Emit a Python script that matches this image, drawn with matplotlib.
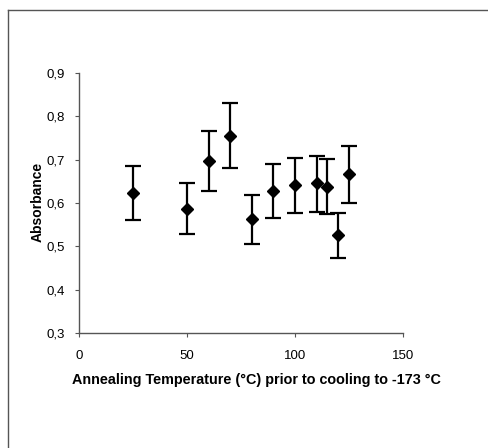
import matplotlib.pyplot as plt
from matplotlib.ticker import FuncFormatter
from matplotlib.lines import Line2D

plt.rcParams["font.family"] = ["Liberation Sans", "DejaVu Sans"]

# annealing temperature (C) and absorbance with error bar ends
temperature = [25, 50, 60, 70, 80, 90, 100, 110, 115, 120, 125]
absorbance = [0.622, 0.585, 0.697, 0.755, 0.563, 0.628, 0.641, 0.645, 0.638, 0.525, 0.666]
err_top = [0.686, 0.645, 0.767, 0.830, 0.618, 0.691, 0.704, 0.709, 0.701, 0.577, 0.732]
err_bottom = [0.561, 0.528, 0.628, 0.680, 0.506, 0.565, 0.576, 0.580, 0.574, 0.472, 0.599]

yerr_low = [a - b for a, b in zip(absorbance, err_bottom)]
yerr_high = [t - a for a, t in zip(absorbance, err_top)]

fig = plt.figure(figsize=(4.89, 4.48), dpi=100)
ax = fig.add_axes([0.1616, 0.2567, 0.6626, 0.5804])

ax.errorbar(temperature, absorbance, yerr=[yerr_low, yerr_high],
            fmt="D", color="black", markersize=6.5, ecolor="black",
            elinewidth=1.6, capsize=6, capthick=1.6)

ax.set_xlim(0, 150)
ax.set_ylim(0.3, 0.9)
ax.set_xticks([0, 50, 100, 150])
ax.set_yticks([0.3, 0.4, 0.5, 0.6, 0.7, 0.8, 0.9])
ax.yaxis.set_major_formatter(FuncFormatter(lambda v, p: f"{v:.1f}".replace(".", ",")))

for side in ["top", "right"]:
    ax.spines[side].set_visible(False)
for side in ["left", "bottom"]:
    ax.spines[side].set_color("#555555")
    ax.spines[side].set_linewidth(1.0)

ax.tick_params(axis="both", direction="out", length=3, width=0.8, colors="#555555",
               labelcolor="black", labelsize=9.5)
ax.tick_params(axis="x", pad=9)
ax.tick_params(axis="y", pad=7)

ax.set_xlabel("Annealing Temperature (°C) prior to cooling to -173 °C",
              fontsize=10.4, fontweight="bold")
ax.xaxis.set_label_coords((256 - 79) / 324, -(380 - 333) / 260, transform=ax.transAxes)
ax.xaxis.label.set_va("center")
ax.set_ylabel("Absorbance", fontsize=10, fontweight="bold")
ax.yaxis.set_label_coords(-(79 - 38) / 324, (333 - 202) / 260, transform=ax.transAxes)
ax.yaxis.label.set_va("center")

# scanned page border (top and left edges)
fig.add_artist(Line2D([8 / 489, 1], [1 - 10 / 448, 1 - 10 / 448],
                      transform=fig.transFigure, color="#555555", lw=1.0))
fig.add_artist(Line2D([8 / 489, 8 / 489], [0, 1 - 10 / 448],
                      transform=fig.transFigure, color="#555555", lw=1.0))

plt.savefig("out.png", dpi=100)
